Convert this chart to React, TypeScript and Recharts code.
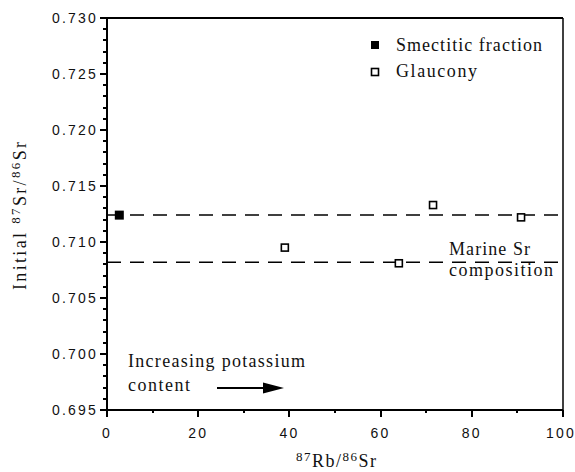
import React from 'react'
import {
  ScatterChart, Scatter, XAxis, YAxis, ReferenceLine,
} from 'recharts'

// values
const smectiticRb = [2.7]
const smectiticSr = [0.7124]
const glauconyRb = [39, 64, 71.5, 90.8]
const glauconySr = [0.7095, 0.7081, 0.7133, 0.7122]
const marineSrLines = [0.7124, 0.7082]

const xTicks = [0, 10, 20, 30, 40, 50, 60, 70, 80, 90, 100]
const xMajor = [0, 20, 40, 60, 80, 100]
const yMajor = [0.695, 0.7, 0.705, 0.71, 0.715, 0.72, 0.725, 0.73]
// minor ticks every 0.001
const yTicks = Array.from({ length: 36 }, (_, i) => +(0.695 + i * 0.001).toFixed(3))

const smectitic = smectiticRb.map((x, i) => ({ x, y: smectiticSr[i] }))
const glaucony = glauconyRb.map((x, i) => ({ x, y: glauconySr[i] }))

const SANS = 'Liberation Sans, Arial, sans-serif'
const SERIF = 'Liberation Serif, Times New Roman, serif'
const serif = { fontFamily: SERIF, fontSize: 18, fill: '#111' }
const tickFont = { fontFamily: SANS, fontSize: 14, fill: '#111' }

function YTick({ x, y, payload }: any) {
  const v = payload.value
  const major = yMajor.some(m => Math.abs(m - v) < 1e-6)
  return (
    <g>
      <line x1={x - (major ? 7 : 4)} x2={x} y1={y} y2={y} stroke="#000" strokeWidth={2} shapeRendering="crispEdges" />
      {major && (
        <text x={x - 9} y={y + 5} textAnchor="end" letterSpacing={2.2} style={tickFont}>{v.toFixed(3)}</text>
      )}
    </g>
  )
}

function XTick({ x, y, payload }: any) {
  const v = payload.value
  const major = xMajor.includes(v)
  return (
    <g>
      <line x1={x} x2={x} y1={y} y2={y + (major ? 7 : 3)} stroke="#000" strokeWidth={2} shapeRendering="crispEdges" />
      {major && (
        <text x={x + (v === 100 ? -2 : 0)} y={y + 28} textAnchor="middle" letterSpacing={2.2} style={tickFont}>{v}</text>
      )}
    </g>
  )
}

const filledSquare = (p: any) => (
  <rect x={p.cx - 4.5} y={p.cy - 4.5} width={9} height={9} fill="#000" />
)
const openSquare = (p: any) => (
  <rect x={p.cx - 3.5} y={p.cy - 3.5} width={7} height={7} fill="#fff" stroke="#000" strokeWidth={1.6} />
)

export default function App() {
  return (
    <div style={{ position: 'absolute', left: 0, top: 0, background: '#fff' }}>
      <ScatterChart width={575} height={472} margin={{ top: 18, right: 12, bottom: 32, left: 47 }}>
        <XAxis type="number" dataKey="x" domain={[0, 100]} ticks={xTicks} interval={0}
          tick={<XTick />} tickLine={false} tickSize={0} tickMargin={0} height={30}
          axisLine={{ stroke: '#000', strokeWidth: 2 }} allowDataOverflow />
        <YAxis type="number" dataKey="y" domain={[0.695, 0.73]} ticks={yTicks} interval={0}
          tick={<YTick />} tickLine={false} tickSize={0} tickMargin={0} width={60}
          axisLine={{ stroke: '#000', strokeWidth: 2 }} allowDataOverflow />
        <ReferenceLine y={0.73} stroke="#000" strokeWidth={2} />
        <ReferenceLine x={100} stroke="#000" strokeWidth={1.5} />
        {marineSrLines.map(v => (
          <ReferenceLine key={v} y={v} stroke="#000" strokeWidth={1.5} strokeDasharray="14 9" />
        ))}
        <Scatter name="Smectitic fraction" data={smectitic} shape={filledSquare} isAnimationActive={false} />
        <Scatter name="Glaucony" data={glaucony} shape={openSquare} isAnimationActive={false} />

        {/* legend */}
        <rect x={371} y={41} width={8} height={8} fill="#000" />
        <text x={396} y={51} style={serif} textLength={146} lengthAdjust="spacing">Smectitic fraction</text>
        <rect x={371.5} y={68.5} width={7} height={7} fill="#fff" stroke="#000" strokeWidth={1.6} />
        <text x={396} y={77} style={serif} textLength={81} lengthAdjust="spacing">Glaucony</text>

        {/* annotations */}
        <text x={449} y={255} style={serif} textLength={81} lengthAdjust="spacing">Marine Sr</text>
        <text x={449} y={276} style={serif} textLength={104} lengthAdjust="spacing">composition</text>
        <text x={128} y={367} style={serif} textLength={177} lengthAdjust="spacing">Increasing potassium</text>
        <text x={128} y={391} style={serif} textLength={62} lengthAdjust="spacing">content</text>
        <line x1={217} x2={266} y1={388} y2={388} stroke="#000" strokeWidth={2} />
        <polygon points="263,382.5 284,388 263,393.5" fill="#000" />

        {/* axis titles */}
        <text x={296} y={467} style={serif} textLength={80} lengthAdjust="spacing">
          <tspan fontSize={13} dy={-6}>87</tspan>
          <tspan dy={6}>Rb/</tspan>
          <tspan fontSize={13} dy={-6}>86</tspan>
          <tspan dy={6}>Sr</tspan>
        </text>
        <text transform="translate(26,290) rotate(-90)" style={serif} textLength={148} lengthAdjust="spacing">
          <tspan>Initial </tspan>
          <tspan fontSize={13} dy={-6}>87</tspan>
          <tspan dy={6}>Sr/</tspan>
          <tspan fontSize={13} dy={-6}>86</tspan>
          <tspan dy={6}>Sr</tspan>
        </text>
      </ScatterChart>
    </div>
  )
}
